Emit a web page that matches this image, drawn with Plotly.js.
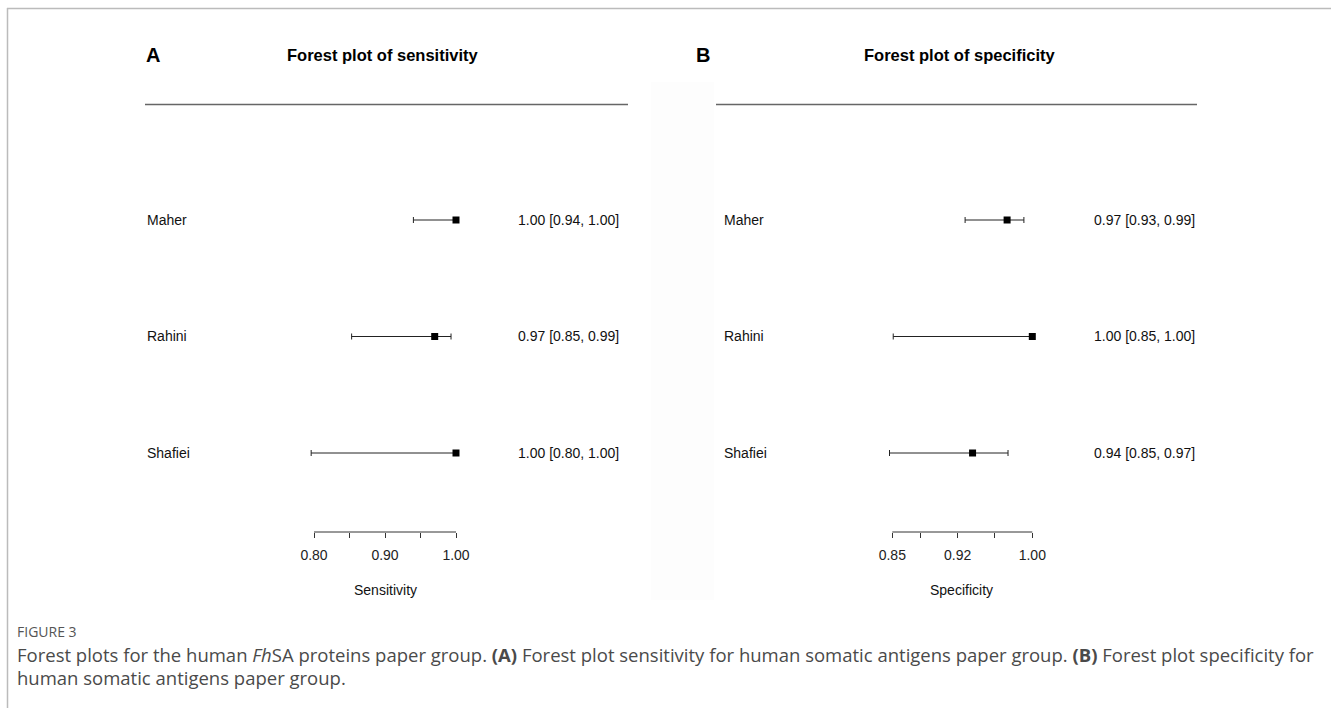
<!DOCTYPE html>
<html>
<head>
<meta charset="utf-8">
<script src="https://cdn.plot.ly/plotly-3.0.1.min.js"></script>
<style>html,body{margin:0;padding:0;background:#fff;}#chart{width:1331px;height:708px;}</style>
</head>
<body>
<div id="chart"></div>
<script>
// ---- data ----
const studies = ["Maher", "Rahini", "Shafiei"];
const rowPos = [3, 2, 1];
const sensEst = [1.00, 0.97, 1.00];
const sensLo  = [0.94, 0.853, 0.796];
const sensHi  = [1.00, 0.993, 1.00];
const specEst = [0.973, 1.00, 0.936];
const specLo  = [0.928, 0.851, 0.847];
const specHi  = [0.991, 1.00, 0.974];
const sensTicks = [0.80, 0.85, 0.90, 0.95, 1.00];
const sensTickText = ["0.80", "", "0.90", "", "1.00"];
const specTicks = [0.85, 0.88, 0.92, 0.96, 1.00];
const specTickText = ["0.85", "", "0.92", "", "1.00"];

const W = 1331, H = 708;
const px = v => v / W;            // paper x from pixel
const py = v => 1 - v / H;        // paper y from pixel (from top)
const FONT = "'Liberation Sans', Arial, sans-serif";
const fmt = (e, l, h) => `${e.toFixed(2)} [${l.toFixed(2)}, ${h.toFixed(2)}]`;

function ciTrace(est, lo, hi, xa) {
  return {
    type: "scatter", mode: "markers", xaxis: xa, yaxis: "y",
    x: est, y: rowPos,
    marker: {symbol: "square", size: 7, color: "#000"},
    error_x: {type: "data", symmetric: false,
      array: est.map((e, i) => hi[i] - e),
      arrayminus: est.map((e, i) => e - lo[i]),
      color: "#222", thickness: 1, width: 3},
    hoverinfo: "skip", showlegend: false, cliponaxis: false
  };
}

const data = [ciTrace(sensEst, sensLo, sensHi, "x"), ciTrace(specEst, specLo, specHi, "x2")];

// axis scale: A 0.80->314px, 1.00->456px ; B 0.85->892px, 1.00->1032px
const aK = (456 - 314) / 0.20, aR0 = 0.80 - 314 / aK;
const bK = (1032.3 - 892.3) / 0.15, bR0 = 0.85 - 892.3 / bK;
const axisY = 532;
const yK = (453 - 220) / 2, yR0 = 3 - (H - 220) / yK;

const axBase = {showgrid: false, zeroline: false, showline: false, ticks: "outside",
  ticklen: 5, tickwidth: 1, tickcolor: "#333", anchor: "free", position: 1 - axisY / H,
  ticklabelstandoff: 5,
  tickfont: {family: FONT, size: 14, color: "#222"}, fixedrange: true, domain: [0, 1]};

const annotations = [];
const ann = (x, y, text, opts) => annotations.push(Object.assign({xref: "paper", yref: "paper",
  x: px(x), y: py(y), text: text, showarrow: false, xanchor: "left", yanchor: "middle",
  font: {family: FONT, size: 14, color: "#111"}}, opts || {}));

ann(153, 55, "<b>A</b>", {xanchor: "center", font: {family: FONT, size: 20, color: "#000"}});
ann(383, 55, "<b>Forest plot of sensitivity</b>", {xanchor: "center", font: {family: FONT, size: 16.5, color: "#000"}});
ann(703, 55, "<b>B</b>", {xanchor: "center", font: {family: FONT, size: 20, color: "#000"}});
ann(960, 55, "<b>Forest plot of specificity</b>", {xanchor: "center", font: {family: FONT, size: 16.5, color: "#000"}});

studies.forEach((s, i) => {
  const yy = H - ((rowPos[i] - yR0) * yK);
  ann(145, yy, s);
  ann(722, yy, s);
  ann(621, yy, fmt(sensEst[i], sensLo[i], sensHi[i]), {xanchor: "right"});
  ann(1197, yy, fmt(specEst[i], specLo[i], specHi[i]), {xanchor: "right"});
});
ann(385, 590, "Sensitivity", {xanchor: "center"});
ann(962, 590, "Specificity", {xanchor: "center"});

const CAP = "'Open Sans', sans-serif";
ann(15, 631, "FIGURE 3", {font: {family: CAP, size: 14, color: "#555"}});
ann(15, 654, "Forest plots for the human <i>Fh</i>SA proteins paper group. <b>(A)</b> Forest plot sensitivity for human somatic antigens paper group. <b>(B)</b> Forest plot specificity for",
  {font: {family: CAP, size: 18.5, color: "#4a4a4a"}});
ann(15, 677, "human somatic antigens paper group.", {font: {family: CAP, size: 18.5, color: "#4a4a4a"}});

const shapes = [
  // faint strip between panels
  {type: "rect", xref: "paper", yref: "paper", x0: px(651), x1: px(714), y0: py(600), y1: py(82),
   fillcolor: "#fdfdfd", line: {width: 0}, layer: "below"},
  // frame
  {type: "line", xref: "paper", yref: "paper", x0: px(7), x1: 1, y0: py(8.5), y1: py(8.5), line: {color: "#bbb", width: 1.5}},
  {type: "line", xref: "paper", yref: "paper", x0: px(7.5), x1: px(7.5), y0: py(8), y1: 0, line: {color: "#bbb", width: 1.5}},
  // header rules
  {type: "line", xref: "paper", yref: "paper", x0: px(145), x1: px(628), y0: py(104.5), y1: py(104.5), line: {color: "#666", width: 1.3}},
  {type: "line", xref: "paper", yref: "paper", x0: px(716), x1: px(1197), y0: py(104.5), y1: py(104.5), line: {color: "#666", width: 1.3}},
  // axis lines
  {type: "line", xref: "x", yref: "paper", x0: sensTicks[0], x1: sensTicks[sensTicks.length - 1], y0: py(axisY), y1: py(axisY), line: {color: "#333", width: 1}},
  {type: "line", xref: "x2", yref: "paper", x0: specTicks[0], x1: specTicks[specTicks.length - 1], y0: py(axisY), y1: py(axisY), line: {color: "#333", width: 1}}
];

const layout = {
  width: W, height: H, margin: {l: 0, r: 0, t: 0, b: 0},
  paper_bgcolor: "#fff", plot_bgcolor: "rgba(0,0,0,0)", showlegend: false,
  xaxis: Object.assign({}, axBase, {range: [aR0, aR0 + W / aK], tickvals: sensTicks, ticktext: sensTickText}),
  xaxis2: Object.assign({}, axBase, {range: [bR0, bR0 + W / bK], tickvals: specTicks, ticktext: specTickText, overlaying: "x"}),
  yaxis: {visible: false, range: [yR0, yR0 + H / yK], domain: [0, 1], fixedrange: true},
  annotations: annotations, shapes: shapes
};

Plotly.newPlot("chart", data, layout, {displayModeBar: false, staticPlot: true});
</script>
</body>
</html>
